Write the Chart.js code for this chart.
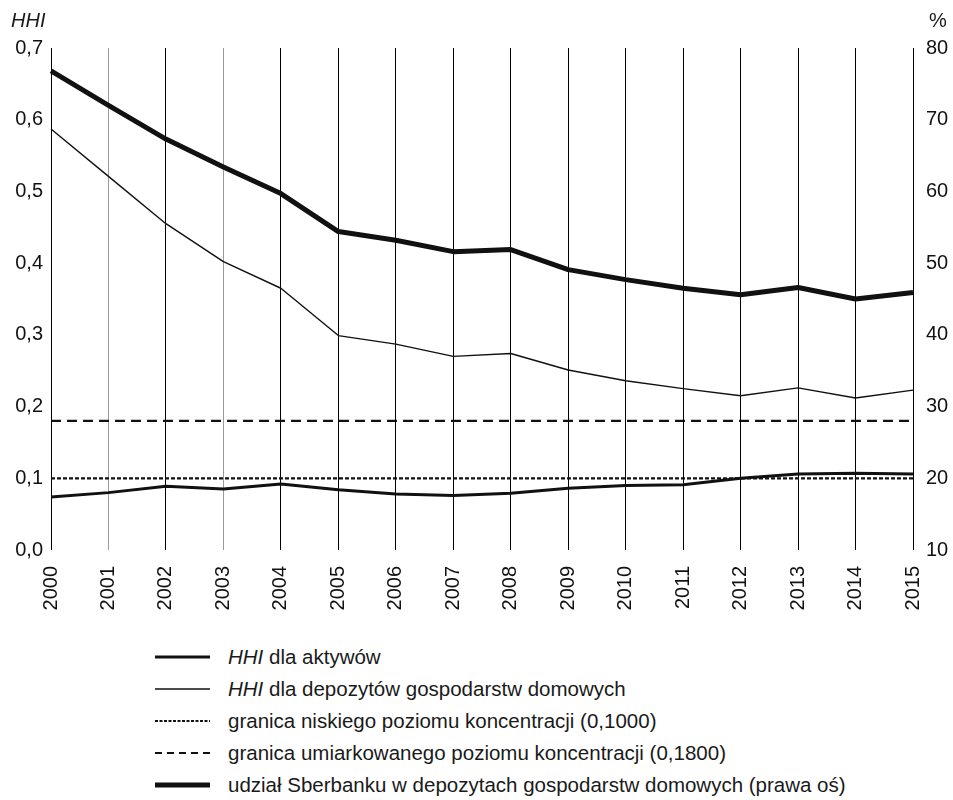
<!DOCTYPE html>
<html>
<head>
<meta charset="utf-8">
<script src="https://cdn.jsdelivr.net/npm/chart.js@4/dist/chart.umd.min.js"></script>
<style>
  html, body { margin: 0; padding: 0; background: #fff; }
  #wrap { position: relative; width: 953px; height: 800px; font-family: "Liberation Sans", Arial, sans-serif; color: #1a1a1a; }
  #c { position: absolute; left: 0; top: 0; }
  .axt { position: absolute; font-size: 20px; line-height: 20px; }
  .row { position: absolute; left: 0; height: 24px; font-size: 20.5px; }
  .row svg { position: absolute; left: 153px; top: 0; }
  .row span { position: absolute; left: 228px; white-space: nowrap; top: 0px; line-height: 24px; }
</style>
</head>
<body>
<div id="wrap">
  <canvas id="c" width="953" height="640"></canvas>
  <div class="axt" style="left:11px; top:10px; font-style:italic;">HHI</div>
  <div class="axt" style="left:929px; top:10px;">%</div>
  <div id="legend"></div>
</div>
<script>
// ---- data ----
const years = ["2000","2001","2002","2003","2004","2005","2006","2007","2008","2009","2010","2011","2012","2013","2014","2015"];
const hhiAssets = [0.074,0.080,0.089,0.085,0.092,0.084,0.078,0.076,0.079,0.086,0.090,0.091,0.100,0.106,0.107,0.106];
const hhiDeposits = [0.587,0.521,0.455,0.402,0.365,0.299,0.287,0.270,0.274,0.251,0.236,0.225,0.215,0.226,0.212,0.223];
const sberShare = [76.8,72.0,67.3,63.4,59.7,54.4,53.2,51.6,51.9,49.1,47.7,46.5,45.6,46.6,45.0,45.9];
const lowConcentration = 0.1;
const moderateConcentration = 0.18;
const leftTicks = [0,0.1,0.2,0.3,0.4,0.5,0.6,0.7];
const rightTicks = [10,20,30,40,50,60,70,80];
const legendLabels = [
  ["<i>HHI</i> dla aktywów", 3, []],
  ["<i>HHI</i> dla depozytów gospodarstw domowych", 1.3, []],
  ["granica niskiego poziomu koncentracji (0,1000)", 2, [3,1.5]],
  ["granica umiarkowanego poziomu koncentracji (0,1800)", 2, [7,5]],
  ["udział Sberbanku w depozytach gospodarstw domowych (prawa oś)", 5, []]
];

const font = { family: "'Liberation Sans', Arial, sans-serif", size: 20 };
const black = '#111';

new Chart(document.getElementById('c'), {
  type: 'line',
  data: {
    labels: years,
    datasets: [
      { data: years.map(() => lowConcentration), yAxisID: 'y', borderColor: black, borderWidth: 2.2, borderDash: [4, 2] },
      { data: years.map(() => moderateConcentration), yAxisID: 'y', borderColor: black, borderWidth: 2.2, borderDash: [10, 6] },
      { data: hhiAssets, yAxisID: 'y', borderColor: black, borderWidth: 3 },
      { data: hhiDeposits, yAxisID: 'y', borderColor: black, borderWidth: 1.4 },
      { data: sberShare, yAxisID: 'y1', borderColor: black, borderWidth: 5 }
    ]
  },
  options: {
    responsive: false,
    animation: false,
    devicePixelRatio: 1,
    layout: { padding: { top: 48, left: 0, right: 0, bottom: 0 } },
    elements: {
      point: { radius: 0 },
      line: { tension: 0, fill: false, borderJoinStyle: 'round', borderCapStyle: 'butt' }
    },
    plugins: { legend: { display: false }, tooltip: { enabled: false } },
    scales: {
      x: {
        offset: false,
        grid: {
          display: true, drawTicks: false, lineWidth: 1,
          color: (ctx) => (ctx.index === 1 || ctx.index === 3) ? '#9a9a9a' : '#000'
        },
        border: { display: false },
        ticks: { color: black, font: font, minRotation: 90, maxRotation: 90, padding: 16, autoSkip: false },
        afterFit: (s) => { s.height = 90; }
      },
      y: {
        position: 'left', min: 0, max: 0.7,
        afterBuildTicks: (s) => { s.ticks = leftTicks.map(v => ({ value: v })); },
        grid: { display: false, drawTicks: false },
        border: { display: false },
        ticks: { color: black, font: font, padding: 8, callback: (v) => v.toFixed(1).replace('.', ',') },
        afterFit: (s) => { s.width = 51; }
      },
      y1: {
        position: 'right', min: 10, max: 80,
        afterBuildTicks: (s) => { s.ticks = rightTicks.map(v => ({ value: v })); },
        grid: { display: false, drawTicks: false },
        border: { display: false },
        ticks: { color: black, font: font, padding: 13 },
        afterFit: (s) => { s.width = 38; }
      }
    }
  }
});

// ---- legend ----
const leg = document.getElementById('legend');
legendLabels.forEach((item, i) => {
  const row = document.createElement('div');
  row.className = 'row';
  row.style.top = (645 + i * 32) + 'px';
  row.style.width = '953px';
  const dash = item[2].length ? `stroke-dasharray="${item[2].join(',')}"` : '';
  row.innerHTML = `<svg width="60" height="24"><line x1="2" y1="12" x2="57" y2="12" stroke="#111" stroke-width="${item[1]}" ${dash}/></svg><span>${item[0]}</span>`;
  leg.appendChild(row);
});
</script>
</body>
</html>
